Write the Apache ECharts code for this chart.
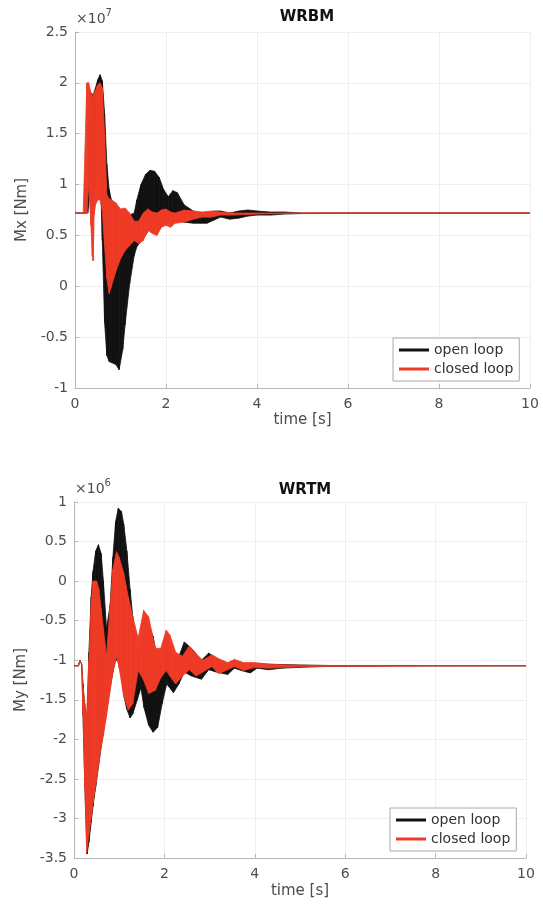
<!DOCTYPE html>
<html>
<head>
<meta charset="utf-8">
<script src="https://cdn.jsdelivr.net/npm/echarts@6/dist/echarts.min.js"></script>
<style>
html,body{margin:0;padding:0;background:#fff;}
#chart{width:543px;height:906px;}
</style>
</head>
<body>
<div id="chart"></div>
<script>
// ---- WRBM (Mx, units of 1e7 Nm) ----
const tOpenMx   = [0, 0.25, 0.28, 0.32, 0.4, 0.45, 0.5, 0.55, 0.6, 0.65, 0.7, 0.75, 0.8, 0.9, 0.97, 1.05, 1.1, 1.2, 1.3, 1.36, 1.45, 1.55, 1.65, 1.75, 1.85, 1.95, 2.05, 2.15, 2.25, 2.4, 2.6, 2.75, 2.9, 3.05, 3.2, 3.4, 3.6, 3.8, 4.0, 4.3, 4.6, 5.0, 6.0, 8.0, 10];
const upOpenMx  = [0.72, 0.72, 1.3, 1.92, 1.88, 1.95, 2.03, 2.08, 2.02, 1.7, 1.2, 0.95, 0.85, 0.8, 0.76, 0.74, 0.72, 0.7, 0.72, 0.85, 1.0, 1.1, 1.14, 1.13, 1.07, 0.95, 0.88, 0.94, 0.92, 0.8, 0.74, 0.72, 0.71, 0.74, 0.74, 0.72, 0.74, 0.75, 0.74, 0.73, 0.73, 0.72, 0.72, 0.72, 0.72];
const loOpenMx  = [0.72, 0.72, 0.72, 0.9, 0.8, 1.0, 1.15, 1.2, 0.45, -0.35, -0.68, -0.74, -0.75, -0.77, -0.82, -0.62, -0.38, 0.02, 0.3, 0.39, 0.44, 0.5, 0.58, 0.65, 0.7, 0.73, 0.72, 0.72, 0.7, 0.63, 0.62, 0.62, 0.62, 0.65, 0.68, 0.66, 0.67, 0.69, 0.70, 0.70, 0.71, 0.715, 0.72, 0.72, 0.72];

const tClosedMx  = [0, 0.18, 0.26, 0.3, 0.35, 0.38, 0.4, 0.42, 0.45, 0.5, 0.55, 0.6, 0.65, 0.7, 0.75, 0.8, 0.9, 1.0, 1.1, 1.2, 1.3, 1.4, 1.5, 1.6, 1.7, 1.8, 1.9, 2.0, 2.1, 2.2, 2.4, 2.6, 2.8, 3.0, 3.2, 3.5, 4.0, 5.0, 10];
const upClosedMx = [0.72, 0.72, 2.0, 2.0, 1.9, 1.87, 1.88, 1.9, 1.93, 1.98, 2.0, 1.95, 1.5, 0.9, 0.86, 0.85, 0.82, 0.76, 0.77, 0.72, 0.64, 0.64, 0.72, 0.76, 0.73, 0.72, 0.75, 0.76, 0.73, 0.72, 0.75, 0.74, 0.73, 0.74, 0.73, 0.72, 0.72, 0.72, 0.72];
const loClosedMx = [0.72, 0.72, 0.72, 1.0, 0.6, 0.3, 0.25, 0.7, 0.8, 0.85, 0.85, 0.75, 0.4, 0.08, -0.07, 0.0, 0.15, 0.27, 0.35, 0.4, 0.45, 0.42, 0.45, 0.55, 0.52, 0.5, 0.58, 0.6, 0.58, 0.62, 0.63, 0.66, 0.68, 0.68, 0.70, 0.70, 0.71, 0.72, 0.72];

// ---- WRTM (My, units of 1e6 Nm) ----
const tOpenMy   = [0, 0.1, 0.13, 0.17, 0.2, 0.24, 0.29, 0.33, 0.38, 0.42, 0.48, 0.54, 0.6, 0.65, 0.72, 0.8, 0.86, 0.92, 0.98, 1.05, 1.1, 1.17, 1.24, 1.3, 1.4, 1.48, 1.55, 1.65, 1.75, 1.85, 1.95, 2.05, 2.2, 2.32, 2.44, 2.6, 2.82, 2.98, 3.15, 3.4, 3.55, 3.7, 3.9, 4.05, 4.3, 4.6, 5.0, 5.5, 6.0, 8.0, 10];
const upOpenMy  = [-1.07, -1.07, -1.0, -1.05, -1.3, -1.6, -1.7, -0.9, -0.2, 0.12, 0.38, 0.46, 0.35, 0.0, -0.6, -0.3, 0.3, 0.75, 0.92, 0.88, 0.72, 0.38, -0.1, -0.45, -0.85, -1.0, -0.6, -0.55, -0.7, -1.0, -1.1, -0.72, -0.95, -0.95, -0.77, -0.85, -1.0, -0.91, -0.98, -1.05, -1.01, -1.03, -1.06, -1.04, -1.05, -1.055, -1.06, -1.065, -1.07, -1.07, -1.07];
const loOpenMy  = [-1.07, -1.07, -1.0, -1.05, -1.7, -2.6, -3.45, -3.3, -3.05, -2.85, -2.6, -2.35, -2.1, -1.9, -1.65, -1.35, -1.15, -1.0, -1.0, -1.2, -1.45, -1.62, -1.73, -1.68, -1.5, -1.35, -1.6, -1.82, -1.91, -1.85, -1.55, -1.3, -1.41, -1.3, -1.15, -1.2, -1.24, -1.12, -1.15, -1.18, -1.1, -1.13, -1.16, -1.1, -1.12, -1.1, -1.09, -1.08, -1.075, -1.07, -1.07];

const tClosedMy  = [0, 0.1, 0.13, 0.17, 0.2, 0.24, 0.28, 0.33, 0.38, 0.42, 0.5, 0.55, 0.6, 0.65, 0.72, 0.8, 0.86, 0.94, 1.0, 1.1, 1.2, 1.3, 1.42, 1.54, 1.65, 1.8, 1.92, 2.04, 2.12, 2.25, 2.4, 2.55, 2.7, 2.85, 3.05, 3.2, 3.4, 3.55, 3.75, 4.0, 4.3, 4.7, 5.2, 6.0, 10];
const upClosedMy = [-1.07, -1.07, -1.0, -1.05, -1.35, -1.55, -1.7, -1.0, -0.3, 0.0, 0.0, -0.1, -0.35, -0.6, -0.95, -0.3, 0.15, 0.37, 0.3, 0.1, -0.2, -0.45, -0.72, -0.37, -0.45, -0.85, -0.85, -0.62, -0.68, -0.9, -0.95, -0.82, -0.92, -1.0, -0.93, -0.98, -1.03, -0.99, -1.03, -1.03, -1.05, -1.06, -1.065, -1.07, -1.07];
const loClosedMy = [-1.07, -1.07, -1.0, -1.05, -1.7, -2.6, -3.43, -3.2, -3.0, -2.8, -2.5, -2.3, -2.1, -1.95, -1.7, -1.38, -1.15, -0.95, -1.1, -1.45, -1.63, -1.55, -1.13, -1.25, -1.42, -1.38, -1.22, -1.13, -1.2, -1.3, -1.2, -1.12, -1.2, -1.15, -1.08, -1.17, -1.12, -1.08, -1.13, -1.09, -1.1, -1.09, -1.08, -1.075, -1.07];

const xTicks = [0, 2, 4, 6, 8, 10];
const seriesNames = ['open loop', 'closed loop'];
const titles = ['WRBM', 'WRTM'];
const yNames = ['Mx [Nm]', 'My [Nm]'];
const exponents = ['7', '6'];
</script>
<script>
const BLACK = '#111111', RED = '#ef3b26';
const FONT = 'DejaVu Sans';
const chart = echarts.init(document.getElementById('chart'));

// Envelope band drawn as quads between consecutive samples, positioned via the axis scales.
function band(t, up, lo, name, color, idx) {
  const data = [];
  for (let i = 0; i < t.length - 1; i++) {
    data.push([t[i], up[i], lo[i], t[i + 1], up[i + 1], lo[i + 1]]);
  }
  return {
    type: 'custom', name: name, xAxisIndex: idx, yAxisIndex: idx,
    data: data, clip: true,
    itemStyle: { color: color },
    encode: { x: [0, 3], y: [1, 2, 4, 5] },
    renderItem: function (params, api) {
      const p1 = api.coord([api.value(0), api.value(1)]);
      const p2 = api.coord([api.value(3), api.value(4)]);
      const p3 = api.coord([api.value(3), api.value(5)]);
      const p4 = api.coord([api.value(0), api.value(2)]);
      return {
        type: 'polygon',
        shape: { points: [p1, p2, p3, p4] },
        style: { fill: color, stroke: color, lineWidth: 0.8 }
      };
    }
  };
}

function xAxisCfg(i) {
  return {
    gridIndex: i, type: 'value', min: 0, max: 10, interval: 2,
    name: 'time [s]', nameLocation: 'middle', nameGap: i === 0 ? 25 : 26,
    nameTextStyle: { fontFamily: FONT, fontSize: 15, color: '#4d4d4d' },
    axisLine: { onZero: false, lineStyle: { color: '#b5b5b5', width: 1 } },
    axisTick: { inside: true, length: 4, lineStyle: { color: '#b5b5b5' } },
    axisLabel: { fontFamily: FONT, fontSize: 14, color: '#4d4d4d', margin: 9 },
    splitLine: { show: true, lineStyle: { color: '#efefef', width: 1 } }
  };
}
function yAxisCfg(i, min, max) {
  return {
    gridIndex: i, type: 'value', min: min, max: max, interval: 0.5,
    name: yNames[i], nameLocation: 'middle', nameGap: 45,
    nameTextStyle: { fontFamily: FONT, fontSize: 15, color: '#4d4d4d' },
    axisLine: { show: true, onZero: false, lineStyle: { color: '#b5b5b5', width: 1 } },
    axisTick: { show: true, inside: true, length: 4, lineStyle: { color: '#b5b5b5' } },
    axisLabel: { fontFamily: FONT, fontSize: 14, color: '#4d4d4d', margin: 7 },
    splitLine: { show: true, lineStyle: { color: '#efefef', width: 1 } }
  };
}
function legendCfg(i, left, top) {
  return {
    orient: 'vertical', left: left, top: top,
    data: seriesNames.map(n => ({ name: n, icon: 'rect' })),
    itemWidth: 30, itemHeight: 3, itemGap: 5,
    padding: [5, 6, 5, 6],
    borderColor: '#aaaaaa', borderWidth: 1, backgroundColor: '#ffffff',
    textStyle: { fontFamily: FONT, fontSize: 14, color: '#333' },
    selectedMode: false
  };
}
function expText(left, top, e) {
  return {
    type: 'text', left: left, top: top,
    style: {
      text: '{a|×10}{b|' + e + '}',
      rich: {
        a: { fontFamily: FONT, fontSize: 14, fill: '#4d4d4d', verticalAlign: 'bottom' },
        b: { fontFamily: FONT, fontSize: 10, fill: '#4d4d4d', verticalAlign: 'top', padding: [0, 0, 8, 0] }
      }
    }
  };
}

const option = {
  animation: false,
  backgroundColor: '#ffffff',
  title: [
    { text: titles[0], left: 302, top: 5, textAlign: 'center',
      textStyle: { fontFamily: FONT, fontSize: 15, fontWeight: 'bold', color: '#111' } },
    { text: titles[1], left: 300, top: 478, textAlign: 'center',
      textStyle: { fontFamily: FONT, fontSize: 15, fontWeight: 'bold', color: '#111' } }
  ],
  grid: [
    { left: 75, top: 32, width: 455, height: 356 },
    { left: 74, top: 502, width: 452, height: 356 }
  ],
  xAxis: [xAxisCfg(0), xAxisCfg(1)],
  yAxis: [yAxisCfg(0, -1, 2.5), yAxisCfg(1, -3.5, 1)],
  legend: [legendCfg(0, 393, 338), legendCfg(1, 390, 808)],
  graphic: [expText(76, 8, exponents[0]), expText(75, 478, exponents[1])],
  series: [
    band(tOpenMx, upOpenMx, loOpenMx, seriesNames[0], BLACK, 0),
    band(tClosedMx, upClosedMx, loClosedMx, seriesNames[1], RED, 0),
    band(tOpenMy, upOpenMy, loOpenMy, seriesNames[0], BLACK, 1),
    band(tClosedMy, upClosedMy, loClosedMy, seriesNames[1], RED, 1)
  ]
};
chart.setOption(option);
</script>
</body>
</html>
